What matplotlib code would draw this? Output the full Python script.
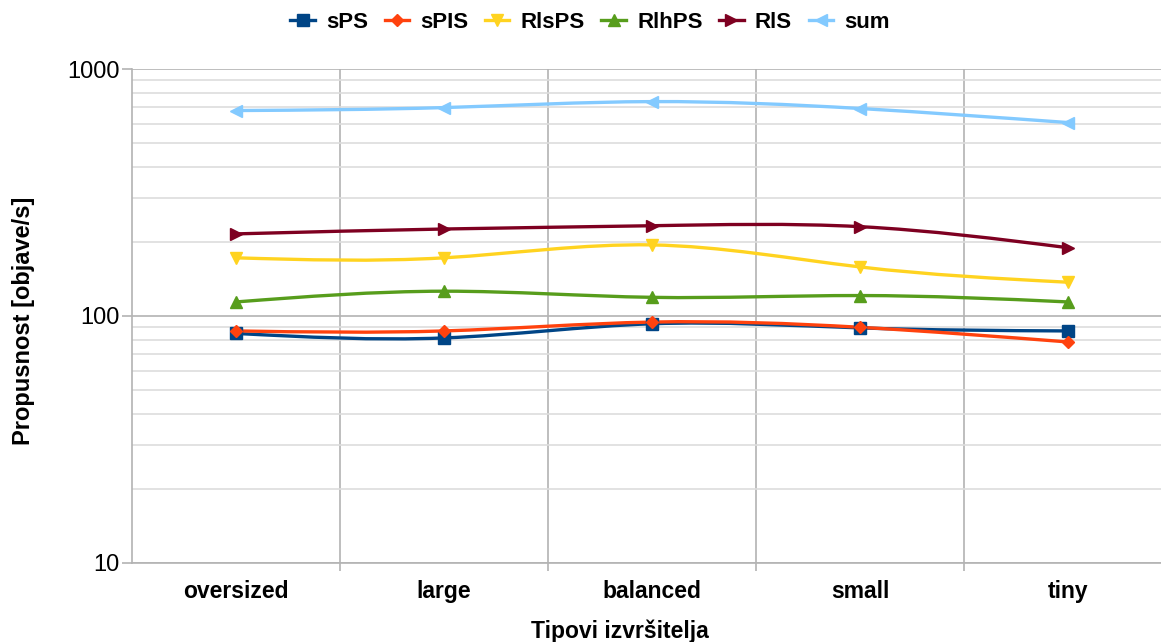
import numpy as np
import matplotlib
matplotlib.use("Agg")
import matplotlib.pyplot as plt
from matplotlib.path import Path
from matplotlib.patches import PathPatch
from matplotlib.lines import Line2D
from matplotlib.ticker import FixedLocator, FixedFormatter, NullFormatter

plt.rcParams['font.family'] = ['Liberation Sans', 'DejaVu Sans']

categories = ['oversized', 'large', 'balanced', 'small', 'tiny']

sPS = [85, 81.5, 93, 89.5, 87]
sPIS = [87, 87, 94.5, 90, 78.5]
RlsPS = [172, 172, 194, 158, 137]
RlhPS = [114, 126, 119, 121, 114]
RlS = [215, 225, 232, 230, 189]
total = [679, 698, 738, 692, 607]

series = [
    ('sPS', sPS, '#004586', 's', 8),
    ('sPIS', sPIS, '#ff420e', 'D', 6.5),
    ('RlsPS', RlsPS, '#ffd320', 'v', 9),
    ('RlhPS', RlhPS, '#579d1c', '^', 9),
    ('RlS', RlS, '#7e0021', '>', 9),
    ('sum', total, '#83caff', '<', 9),
]


def spline_path(xs, ys):
    """Natural cubic spline through the points (in log y), as bezier segments"""
    x = np.asarray(xs, float)
    y = np.log10(np.asarray(ys, float))
    n = len(x)
    A = np.zeros((n, n))
    b = np.zeros(n)
    A[0, 0] = A[-1, -1] = 1
    for i in range(1, n - 1):
        A[i, i - 1:i + 2] = [1, 4, 1]
        b[i] = 6 * (y[i + 1] - 2 * y[i] + y[i - 1])
    M = np.linalg.solve(A, b)
    d = np.empty(n)
    for i in range(n - 1):
        d[i] = (y[i + 1] - y[i]) - (2 * M[i] + M[i + 1]) / 6
    d[-1] = (y[-1] - y[-2]) + (M[-2] + 2 * M[-1]) / 6
    verts = [(x[0], y[0])]
    codes = [Path.MOVETO]
    for i in range(n - 1):
        verts += [(x[i] + 1 / 3, y[i] + d[i] / 3),
                  (x[i + 1] - 1 / 3, y[i + 1] - d[i + 1] / 3),
                  (x[i + 1], y[i + 1])]
        codes += [Path.CURVE4] * 3
    verts = [(vx, 10 ** vy) for vx, vy in verts]
    return Path(verts, codes)


fig = plt.figure(figsize=(11.61, 6.42), dpi=100)
ax = fig.add_axes([0.1137, 0.1231, 0.8863, 0.7694])

xs = np.arange(len(categories))
handles = []
for name, vals, color, marker, ms in series:
    patch = PathPatch(spline_path(xs, vals), facecolor='none', edgecolor=color,
                      lw=2.4, capstyle='round', joinstyle='round', zorder=3)
    ax.add_patch(patch)
    ax.plot(xs, vals, ls='none', marker=marker, ms=ms, color=color,
            mec=color, zorder=4, clip_on=False)
    handles.append(Line2D([], [], color=color, lw=2.4, marker=marker,
                          ms=ms, label=name))

ax.set_yscale('log')
ax.set_ylim(10, 1000)
ax.set_xlim(-0.5, 4.447)

ax.yaxis.set_major_locator(FixedLocator([10, 100, 1000]))
ax.yaxis.set_major_formatter(FixedFormatter(['10', '100', '1000']))
ax.yaxis.set_minor_locator(FixedLocator(
    [m * 10 ** e for e in (1, 2) for m in range(2, 10)]))
ax.yaxis.set_minor_formatter(NullFormatter())

ax.set_xticks(xs)
ax.set_xticklabels(categories, fontsize=16.5, fontweight='bold')
ax.set_xticks([0.5, 1.5, 2.5, 3.5], minor=True)

ax.grid(True, which='major', axis='y', color='#b3b3b3', lw=1.2)
ax.grid(True, which='minor', axis='y', color='#dddddd', lw=1.2)
ax.grid(True, which='minor', axis='x', color='#b3b3b3', lw=1.2)
ax.set_axisbelow(True)

ax.tick_params(axis='x', which='major', length=0, pad=12)
ax.tick_params(axis='x', which='minor', length=6, color='#b3b3b3', width=1.2)
ax.tick_params(axis='y', which='major', length=7, color='#b3b3b3', width=1.2,
               labelsize=17, pad=2)
ax.tick_params(axis='y', which='minor', length=0)

for side in ('top', 'right'):
    ax.spines[side].set_visible(False)
for side in ('left', 'bottom'):
    ax.spines[side].set_color('#b3b3b3')
    ax.spines[side].set_linewidth(1.2)

ax.set_ylabel('Propusnost [objave/s]', fontsize=17, fontweight='bold')
ax.yaxis.set_label_coords(-0.094, 0.49)
ax.set_xlabel('Tipovi izvršitelja', fontsize=16.5, fontweight='bold')
ax.xaxis.set_label_coords(0.474, -0.115)

fig.legend(handles=handles, loc='center', bbox_to_anchor=(590 / 1161, 1 - 22 / 642),
           ncol=6, frameon=False, prop={'size': 16, 'weight': 'bold'},
           handlelength=1.1, handletextpad=0.5, columnspacing=0.75)

fig.savefig('out.png', dpi=100)
